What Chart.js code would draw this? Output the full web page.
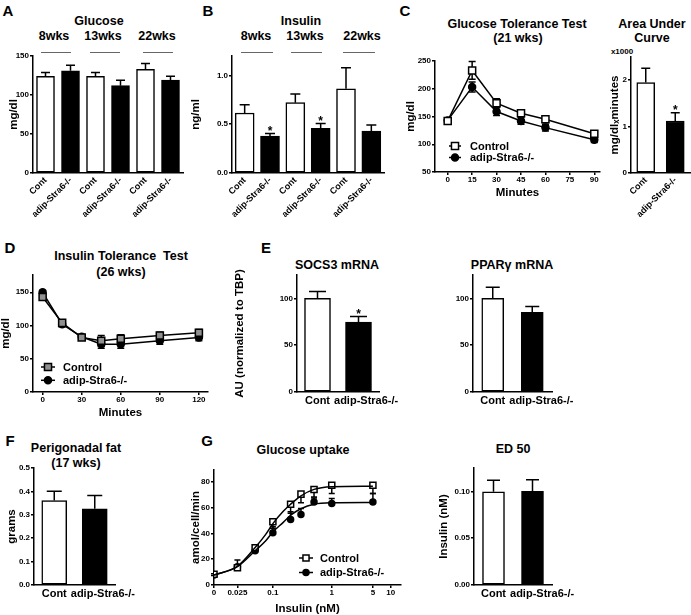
<!DOCTYPE html>
<html lang="en">
<head>
<meta charset="UTF-8">
<title>adip-Stra6-/- metabolic panels</title>
<script src="https://cdn.jsdelivr.net/npm/chart.js@4"></script>
<style>
  body { margin: 0; background: #fff; }
  #fig { position: relative; width: 691px; height: 615px; overflow: hidden;
         font-family: 'Liberation Sans', Arial, sans-serif; font-weight: bold; color: #000; }
  #fig canvas { position: absolute; }
  .t { position: absolute; transform: translate(-50%, -50%); white-space: pre; line-height: 1; }
  .rule { position: absolute; height: 0; border-top: 1.5px solid #666; }
</style>
</head>
<body>
<div id="fig"></div>
<script>
// ---------- data ----------
const barLabels3 = ['Cont', 'adip-Stra6-/-', 'Cont', 'adip-Stra6-/-', 'Cont', 'adip-Stra6-/-'];
const barLabels2 = ['Cont', 'adip-Stra6-/-'];
const weekLabels = ['8wks', '13wks', '22wks'];

// A: glucose (mg/dl)
const glucoseMean = [124, 131, 124, 112, 133, 119];
const glucoseSem = [5, 7, 5, 7, 7.5, 5];
const glucoseTicks = [0, 50, 100, 150];

// B: insulin (ng/ml)
const insulinMean = [0.615, 0.378, 0.721, 0.459, 0.864, 0.429];
const insulinSem = [0.085, 0.027, 0.088, 0.048, 0.215, 0.064];
const insulinSig = ['', '*', '', '*', '', ''];
const insulinTicks = [0, 0.5, 1.0];

// C: glucose tolerance test (21 wks)
const gttMinutes = [0, 15, 30, 45, 60, 90];
const gttControl = [142, 233, 174, 156, 145, 119];
const gttControlSem = [3, 16, 8, 6, 6, 5];
const gttStra6 = [143, 203, 159, 142, 130, 108];
const gttStra6Sem = [3, 9, 7, 6, 6, 5];
const gttTicksX = [0, 15, 30, 45, 60, 75, 90];
const gttTicksY = [50, 100, 150, 200, 250];

// C: area under curve (x1000 mg/dl x minutes)
const aucMean = [1.95, 1.12];
const aucSem = [0.31, 0.18];
const aucSig = ['', '*'];
const aucTicks = [0, 1, 2];

// D: insulin tolerance test (26 wks)
const ittMinutes = [0, 15, 30, 45, 60, 90, 120];
const ittControl = [143, 104, 82, 77, 80, 85, 89];
const ittControlSem = [4, 4, 4, 8, 6, 5, 5];
const ittStra6 = [150, 102, 83, 72, 72, 77, 82];
const ittStra6Sem = [3, 4, 3, 6, 6, 5, 5];
const ittTicksX = [0, 30, 60, 90, 120];
const ittTicksY = [0, 50, 100, 150];

// E: mRNA (AU normalized to TBP)
const socs3Mean = [100, 74.6];
const socs3Sem = [7.5, 6];
const socs3Sig = ['', '*'];
const pparMean = [100, 85];
const pparSem = [12, 6.4];
const mrnaTicks = [0, 50, 100];

// F: perigonadal fat (grams)
const fatMean = [0.361, 0.326];
const fatSem = [0.04, 0.056];
const fatTicks = [0, 0.1, 0.2, 0.3, 0.4, 0.5];

// G: glucose uptake (amol/cell/min) vs insulin (nM)
const insulinDoses = [0, 0.025, 0.05, 0.1, 0.2, 0.3, 0.5, 1, 5];
const uptakeControl = [8.3, 13.4, 28.8, 48.9, 62.5, 70.3, 73.9, 77.2, 77.2];
const uptakeControlSem = [1, 1, 1.5, 5, 7, 6.7, 5.7, 6.4, 6.4];
const uptakeStra6 = [7.7, 14.1, 26.5, 40.4, 50.7, 54.6, 64.3, 63.1, 64.3];
const uptakeStra6Sem = [1, 5.2, 2, 4.6, 6, 4.6, 3, 3.9, 6.5];
const fitDoses = [0.01, 0.025, 0.05, 0.075, 0.1, 0.15, 0.2, 0.3, 0.5, 1, 5];
const fitControl = [7.7, 14.5, 29, 39, 47.5, 57, 62.5, 69, 74, 76, 76.5];
const fitStra6 = [7.7, 14.2, 26.5, 34, 41, 48.5, 54, 59, 62.5, 63.6, 63.8];
const doseTicks = [0, 0.025, 0.1, 1, 5, 10];
const uptakeTicks = [0, 20, 40, 60, 80];

// G: ED50 (nM)
const ed50Mean = [0.0995, 0.10];
const ed50Sem = [0.0125, 0.0125];
const ed50Ticks = [0, 0.05, 0.10];

// ---------- setup ----------
const FONT = "'Liberation Sans', Arial, sans-serif";
const AXIS_TITLE = 11.5;
const LOG_ZERO = 0.01; // where the 0 dose sits on the log axis
const fig = document.getElementById('fig');

Chart.defaults.font.family = FONT;
Chart.defaults.font.weight = 'bold';
Chart.defaults.color = '#000';
Chart.defaults.animation = false;
Chart.defaults.responsive = false;
Chart.defaults.events = [];
Chart.defaults.plugins.legend.display = false;
Chart.defaults.plugins.tooltip.enabled = false;

function text(str, cx, cy, size) {
  const d = document.createElement('div');
  d.className = 't';
  d.style.left = cx + 'px';
  d.style.top = cy + 'px';
  d.style.fontSize = size + 'px';
  d.textContent = str;
  fig.appendChild(d);
}

function rule(x0, x1, y) {
  const d = document.createElement('div');
  d.className = 'rule';
  d.style.left = x0 + 'px';
  d.style.top = y + 'px';
  d.style.width = (x1 - x0) + 'px';
  fig.appendChild(d);
}

// error bars + significance stars
const errorBars = {
  id: 'errorBars',
  beforeDatasetsDraw(chart) {
    const { ctx } = chart;
    const ys = chart.scales.y;
    chart.data.datasets.forEach((ds, di) => {
      if (!ds.err) return;
      const meta = chart.getDatasetMeta(di);
      ctx.save();
      ctx.strokeStyle = '#000';
      ctx.lineWidth = 1.5;
      meta.data.forEach((el, i) => {
        const raw = ds.data[i];
        const v = typeof raw === 'object' ? raw.y : raw;
        const e = ds.err[i];
        const cap = ds.errCap || 8;
        const ends = [];
        if (ds.errDir !== 'down') ends.push(ys.getPixelForValue(v + e));
        if (ds.errDir === 'down' || ds.errDir === 'both') ends.push(ys.getPixelForValue(v - e));
        ends.forEach(py => {
          ctx.beginPath();
          ctx.moveTo(el.x, el.y);
          ctx.lineTo(el.x, py);
          ctx.moveTo(el.x - cap / 2, py);
          ctx.lineTo(el.x + cap / 2, py);
          ctx.stroke();
        });
      });
      ctx.restore();
    });
  },
  afterDatasetsDraw(chart) {
    const { ctx } = chart;
    const ys = chart.scales.y;
    chart.data.datasets.forEach((ds, di) => {
      if (!ds.sig) return;
      const meta = chart.getDatasetMeta(di);
      ctx.save();
      ctx.font = 'bold 12px ' + FONT;
      ctx.fillStyle = '#000';
      ctx.textAlign = 'center';
      ctx.textBaseline = 'alphabetic';
      ds.sig.forEach((s, i) => {
        if (!s) return;
        const top = ys.getPixelForValue(ds.data[i] + ds.err[i]);
        ctx.fillText(s, meta.data[i].x, top + 1);
      });
      ctx.restore();
    });
  }
};

function marker(ctx, style, x, y, r, fill) {
  ctx.beginPath();
  if (style === 'rect') {
    const s = r * Math.SQRT1_2;
    ctx.rect(x - s, y - s, 2 * s, 2 * s);
  } else {
    ctx.arc(x, y, r, 0, Math.PI * 2);
  }
  ctx.fillStyle = fill;
  ctx.fill();
  ctx.strokeStyle = '#000';
  ctx.lineWidth = 1.5;
  ctx.stroke();
}

// legend drawn inside the plot, Prism style (line through the symbol)
const inlineLegend = {
  id: 'inlineLegend',
  afterDraw(chart, args, opts) {
    if (!opts || !opts.items) return;
    const ctx = chart.ctx;
    ctx.save();
    opts.items.forEach((di, k) => {
      const ds = chart.data.datasets[di];
      const x = opts.x, y = opts.y + k * opts.dy;
      ctx.strokeStyle = '#000';
      ctx.lineWidth = 1.5;
      ctx.beginPath();
      ctx.moveTo(x - opts.line / 2, y);
      ctx.lineTo(x + opts.line / 2, y);
      ctx.stroke();
      marker(ctx, ds.pointStyle, x, y, ds.pointRadius, ds.pointBackgroundColor);
      ctx.fillStyle = '#000';
      ctx.font = 'bold 11px ' + FONT;
      ctx.textAlign = 'left';
      ctx.textBaseline = 'middle';
      ctx.fillText(ds.label, x + opts.textDx, y + 0.5);
    });
    ctx.restore();
  }
};

// flat category labels: centred under the bar, pushed right when they would collide
const spreadLabels = {
  id: 'spreadLabels',
  afterDraw(chart, args, opts) {
    if (!opts || !opts.size) return;
    const xs = chart.scales.x, ctx = chart.ctx;
    ctx.save();
    ctx.font = 'bold ' + opts.size + 'px ' + FONT;
    ctx.fillStyle = '#000';
    ctx.textAlign = 'left';
    ctx.textBaseline = 'top';
    let prevRight = -Infinity;
    chart.data.labels.forEach((lab, i) => {
      const w = ctx.measureText(lab).width;
      let left = xs.getPixelForTick(i) - w / 2;
      if (left < prevRight + opts.gap) left = prevRight + opts.gap;
      ctx.fillText(lab, left, chart.chartArea.bottom + opts.pad);
      prevRight = left + w;
    });
    ctx.restore();
  }
};
Chart.register(errorBars, inlineLegend, spreadLabels);

// axes
const tickFont = { size: 8, weight: 'bold' };
const axisTitleFont = { size: AXIS_TITLE, weight: 'bold' };

function yAxis(min, max, ticks, title, digits) {
  return {
    type: 'linear', min, max,
    afterBuildTicks: s => { s.ticks = ticks.map(v => ({ value: v })); },
    ticks: { font: tickFont, padding: 1, callback: v => digits ? v.toFixed(digits) : v },
    grid: { drawOnChartArea: false, color: '#000', lineWidth: 1.5, tickLength: 3 },
    border: { color: '#000', width: 1.5 },
    title: { display: !!title, text: title || '', font: axisTitleFont, padding: 0 }
  };
}

function xLinear(type, min, max, ticks, title, fmt) {
  return {
    type, min, max,
    afterBuildTicks: s => { s.ticks = ticks.map(v => ({ value: v })); },
    ticks: { font: tickFont, padding: 0, autoSkip: false, maxRotation: 0, callback: fmt || (v => v) },
    grid: { drawOnChartArea: false, color: '#000', lineWidth: 1.5, tickLength: 3 },
    border: { color: '#000', width: 1.5 },
    title: { display: true, text: title, font: axisTitleFont, padding: 0 }
  };
}

function xCat(rotated) {
  return {
    type: 'category', offset: true,
    grid: { drawOnChartArea: false, drawTicks: false },
    border: { color: '#000', width: 1.5 },
    ticks: { display: rotated, font: { size: 9, weight: 'bold' }, padding: 2, autoSkip: false,
             minRotation: 45, maxRotation: 45 }
  };
}

function barSet(mean, sem, sig, thick, cap) {
  return {
    data: mean, err: sem, sig, errCap: cap, barThickness: thick,
    backgroundColor: c => c.dataIndex % 2 ? '#000' : '#fff',
    borderColor: '#000', borderWidth: 1.5, borderSkipped: false
  };
}

function lineSet(label, xs, ys, sem, style, radius, fill) {
  return {
    label, data: xs.map((x, i) => ({ x, y: ys[i] })), err: sem, errDir: 'both', errCap: 7,
    borderColor: '#000', borderWidth: 1.5, tension: 0, fill: false,
    pointStyle: style, pointRadius: radius, pointBackgroundColor: fill,
    pointBorderColor: '#000', pointBorderWidth: 1.5
  };
}

const flatLabels = { size: 11, gap: 4, pad: 3 };

// place a canvas so that its chart area lands on plot = [x0, y0, x1, y1] (page px)
function panel(id, plot, opt, config) {
  const [x0, y0, x1, y1] = plot;
  const half = AXIS_TITLE * 1.2 / 2;
  const yW = Math.round(opt.yTitleX != null ? x0 - opt.yTitleX + half : 30);
  const xH = Math.round(opt.xTitleY != null ? opt.xTitleY + half - y1 : opt.xH);
  const mt = 10, mr = opt.mr || 12;
  const left = x0 - yW, top = y0 - mt;
  const c = document.createElement('canvas');
  c.id = id;
  c.width = x1 - x0 + yW + mr;
  c.height = y1 - y0 + mt + xH;
  Object.assign(c.style, { left: left + 'px', top: top + 'px', width: c.width + 'px', height: c.height + 'px' });
  fig.appendChild(c);
  const o = config.options;
  o.layout = { padding: { top: mt, right: mr, left: 0, bottom: 0 } };
  o.scales.x.afterFit = s => { s.height = xH; };
  o.scales.y.afterFit = s => { s.width = yW; };
  if (o.plugins && o.plugins.inlineLegend) {
    o.plugins.inlineLegend.x -= left;
    o.plugins.inlineLegend.y -= top;
  }
  return new Chart(c, config);
}

// ---------- text ----------
text('A', 8, 10, 15); text('B', 208, 10, 15); text('C', 405, 10, 15);
text('D', 10, 247, 15); text('E', 266, 247, 15); text('F', 10, 440, 15); text('G', 207, 440, 15);

text('Glucose', 99, 21, 12.5);
[54, 103, 157].forEach((x, i) => text(weekLabels[i], x, 36, 12.5));
rule(41, 71, 52); rule(90, 120, 52); rule(143, 173, 52);

text('Insulin', 301, 21, 12.5);
[256, 305, 362].forEach((x, i) => text(weekLabels[i], x, 36, 12.5));
rule(241, 273, 52); rule(291, 322, 52); rule(343, 375, 52);

text('Glucose Tolerance Test', 517, 24, 12.5);
text('(21 wks)', 518, 38, 12.5);
text('Area Under', 652, 24, 12.5);
text('Curve', 652, 38, 12.5);
text('x1000', 622, 52, 8);

text('Insulin Tolerance  Test', 121, 256, 12.5);
text('(26 wks)', 121, 272, 12.5);
text('SOCS3 mRNA', 337, 265, 12.5);
text('PPAR\u03b3 mRNA', 512, 265, 12.5);

text('Perigonadal fat', 76, 448, 12.5);
text('(17 wks)', 76, 463, 12.5);
text('Glucose uptake', 303, 450, 12.5);
text('ED 50', 513, 449, 12.5);

// ---------- charts ----------
panel('glucose', [33, 56, 183, 173], { yTitleX: 14, xH: 60 }, {
  type: 'bar',
  data: { labels: barLabels3, datasets: [barSet(glucoseMean, glucoseSem, null, 18, 9)] },
  options: { scales: { x: xCat(true), y: yAxis(0, 150, glucoseTicks, 'mg/dl') } }
});

panel('insulin', [232, 56, 384, 173], { yTitleX: 196, xH: 60 }, {
  type: 'bar',
  data: { labels: barLabels3, datasets: [barSet(insulinMean, insulinSem, insulinSig, 19, 10)] },
  options: { scales: { x: xCat(true), y: yAxis(0, 1.2, insulinTicks, 'ng/ml', 1) } }
});

panel('gtt', [435, 61, 600, 172], { yTitleX: 411, xTitleY: 193 }, {
  type: 'line',
  data: { datasets: [
    lineSet('Control', gttMinutes, gttControl, gttControlSem, 'rect', 5, '#fff'),
    lineSet('adip-Stra6-/-', gttMinutes, gttStra6, gttStra6Sem, 'circle', 3.5, '#000')
  ] },
  options: {
    scales: { x: xLinear('linear', -7.8, 93.5, gttTicksX, 'Minutes'), y: yAxis(50, 250, gttTicksY, 'mg/dl') },
    plugins: { inlineLegend: { x: 455, y: 146, dy: 11.5, line: 12, textDx: 15, items: [0, 1] } }
  }
});

panel('auc', [631, 57, 690, 173], { yTitleX: 615, xH: 60 }, {
  type: 'bar',
  data: { labels: barLabels2, datasets: [barSet(aucMean, aucSem, aucSig, 18, 9)] },
  options: { scales: { x: xCat(true), y: yAxis(0, 2.5, aucTicks, 'mg/dl\u2093minutes') } }
});

panel('itt', [33, 275, 208, 392], { yTitleX: 6, xTitleY: 413 }, {
  type: 'line',
  data: { datasets: [
    lineSet('Control', ittMinutes, ittControl, ittControlSem, 'rect', 5, '#909090'),
    lineSet('adip-Stra6-/-', ittMinutes, ittStra6, ittStra6Sem, 'circle', 3.5, '#000')
  ] },
  options: {
    scales: { x: xLinear('linear', -7.4, 127, ittTicksX, 'Minutes'), y: yAxis(0, 176, ittTicksY, 'mg/dl') },
    plugins: { inlineLegend: { x: 48, y: 367, dy: 13.3, line: 14, textDx: 15, items: [0, 1] } }
  }
});

panel('socs3', [297, 275, 379, 392], { yTitleX: 240, xH: 24, mr: 34 }, {
  type: 'bar',
  data: { labels: barLabels2, datasets: [barSet(socs3Mean, socs3Sem, socs3Sig, 26, 17)] },
  options: { scales: { x: xCat(false), y: yAxis(0, 125, mrnaTicks, 'AU (normalized to TBP)') },
             plugins: { spreadLabels: flatLabels } }
});

panel('ppar', [473, 275, 552, 392], { xH: 24, mr: 34 }, {
  type: 'bar',
  data: { labels: barLabels2, datasets: [barSet(pparMean, pparSem, null, 22, 14)] },
  options: { scales: { x: xCat(false), y: yAxis(0, 125, mrnaTicks) },
             plugins: { spreadLabels: flatLabels } }
});

panel('fat', [34, 468, 115, 585], { yTitleX: 11.5, xH: 24, mr: 34 }, {
  type: 'bar',
  data: { labels: barLabels2, datasets: [barSet(fatMean, fatSem, null, 25, 15)] },
  options: { scales: { x: xCat(false), y: yAxis(0, 0.5, fatTicks, 'grams', 1) },
             plugins: { spreadLabels: flatLabels } }
});

const toPts = (xs, ys) => xs.map((x, i) => ({ x: x || LOG_ZERO, y: ys[i] }));
const curve = (data) => ({
  data, showLine: true, pointRadius: 0, borderColor: '#000', borderWidth: 1.5,
  cubicInterpolationMode: 'monotone', fill: false
});
panel('uptake', [214, 470, 401, 585], { yTitleX: 196, xTitleY: 609 }, {
  type: 'scatter',
  data: { datasets: [
    curve(toPts(fitDoses, fitControl)),
    curve(toPts(fitDoses, fitStra6)),
    { label: 'Control', data: toPts(insulinDoses, uptakeControl), err: uptakeControlSem, errDir: 'down', errCap: 6,
      showLine: false, pointStyle: 'rect', pointRadius: 4.3, pointBackgroundColor: '#fff',
      pointBorderColor: '#000', pointBorderWidth: 1.5 },
    { label: 'adip-Stra6-/-', data: toPts(insulinDoses, uptakeStra6), err: uptakeStra6Sem, errDir: 'up', errCap: 6,
      showLine: false, pointStyle: 'circle', pointRadius: 3, pointBackgroundColor: '#000',
      pointBorderColor: '#000', pointBorderWidth: 1.5 }
  ] },
  options: {
    scales: {
      x: xLinear('logarithmic', LOG_ZERO, 15, doseTicks.map(v => v || LOG_ZERO), 'Insulin (nM)',
                 v => v === LOG_ZERO ? '0' : String(v)),
      y: yAxis(0, 89, uptakeTicks, 'amol/cell/min')
    },
    plugins: { inlineLegend: { x: 306, y: 558, dy: 14.5, line: 14, textDx: 14, items: [2, 3] } }
  }
});

panel('ed50', [474, 468, 552, 585], { yTitleX: 444, xH: 24, mr: 34 }, {
  type: 'bar',
  data: { labels: barLabels2, datasets: [barSet(ed50Mean, ed50Sem, null, 22, 13)] },
  options: { scales: { x: xCat(false), y: yAxis(0, 0.125, ed50Ticks, 'Insulin (nM)', 2) },
             plugins: { spreadLabels: flatLabels } }
});
</script>
</body>
</html>
